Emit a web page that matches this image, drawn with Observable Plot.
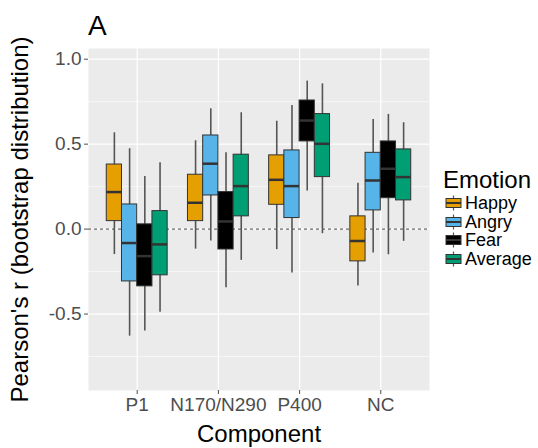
<!DOCTYPE html>
<html><head><meta charset="utf-8">
<script src="https://cdn.jsdelivr.net/npm/d3@7"></script>
<script src="https://cdn.jsdelivr.net/npm/@observablehq/plot@0.6"></script>
<style>
body{margin:0;background:#fff;font-family:"Liberation Sans",Arial,Helvetica,sans-serif;}
#wrap{position:relative;width:538px;height:448px;}
#title{position:absolute;left:88px;top:12px;font-size:28px;line-height:28px;color:#000;}
#legend{position:absolute;left:443px;top:167px;color:#000;}
#legend .lt{font-size:24px;line-height:26px;margin-bottom:1px;}
#legend .row{display:flex;align-items:center;height:18.5px;font-size:18px;line-height:16px;}
#legend .row svg{margin-left:2px;margin-right:3px;}
g[aria-label="y-axis label"] text, g[aria-label="x-axis label"] text{font-size:24px;fill:#000;}
</style>
</head><body>
<div id="wrap"><div id="chart"></div><div id="title">A</div><div id="legend"></div></div>
<script>
const components = ["P1", "N170/N290", "P400", "NC"];
const emotions = ["Happy", "Angry", "Fear", "Average"];
const colors = ["#E69F00", "#56B4E9", "#000000", "#009E73"];
const yTicks = [-0.5, 0, 0.5, 1.0];
const yMinor = [-0.75, -0.25, 0.25, 0.75];
// order: component (P1, N170/N290, P400, NC) x emotion (Happy, Angry, Fear, Average)
const whiskerLow = [-0.15, -0.63, -0.60, -0.49,  -0.118, -0.07, -0.345, -0.184,  -0.121, -0.259, 0.224, -0.027,  -0.335, -0.141, -0.151, -0.072];
const q1 =         [0.047, -0.308, -0.337, -0.272,  0.047, 0.198, -0.12, 0.075,  0.143, 0.065, 0.516, 0.306,  -0.19, 0.11, 0.182, 0.169];
const median =     [0.218, -0.082, -0.159, -0.09,  0.155, 0.385, 0.045, 0.253,  0.29, 0.253, 0.639, 0.502,  -0.07, 0.286, 0.355, 0.306];
const q3 =         [0.38, 0.145, 0.028, 0.106,  0.32, 0.551, 0.218, 0.438,  0.434, 0.463, 0.757, 0.677,  0.075, 0.449, 0.516, 0.469];
const whiskerHigh =[0.567, 0.473, 0.31, 0.39,  0.52, 0.708, 0.449, 0.685,  0.635, 0.728, 0.871, 0.855,  0.27, 0.645, 0.675, 0.626];

const dodge = 0.75 / emotions.length;
const rows = [];
components.forEach((c, ci) => emotions.forEach((e, ei) => {
  const k = ci * emotions.length + ei;
  rows.push({component: c, emotion: e, xc: ci + (ei - (emotions.length - 1) / 2) * dodge,
    lo: whiskerLow[k], q1: q1[k], med: median[k], q3: q3[k], hi: whiskerHigh[k]});
}));

const chart = Plot.plot({
  width: 538, height: 448,
  marginLeft: 88, marginRight: 109, marginTop: 48, marginBottom: 58,
  style: {fontFamily: "Liberation Sans, Arial, Helvetica, sans-serif", fontSize: "19px", background: "transparent"},
  x: {domain: [-0.6, 3.6]},
  y: {domain: [-0.95, 1.063]},
  color: {domain: emotions, range: colors},
  marks: [
    Plot.frame({fill: "#EBEBEB", stroke: "none"}),
    Plot.gridY(yMinor, {stroke: "#fff", strokeOpacity: 1, strokeWidth: 0.6}),
    Plot.gridY(yTicks, {stroke: "#fff", strokeOpacity: 1, strokeWidth: 1.2}),
    Plot.gridX([0, 1, 2, 3], {stroke: "#fff", strokeOpacity: 1, strokeWidth: 1.2}),
    Plot.ruleY([0], {stroke: "#444", strokeDasharray: "3,3", strokeWidth: 1}),
    Plot.ruleX(rows, {x: "xc", y1: "lo", y2: "hi", stroke: "#555", strokeWidth: 1.6}),
    Plot.rect(rows, {x1: d => d.xc - dodge / 2, x2: d => d.xc + dodge / 2, y1: "q1", y2: "q3", fill: "emotion", stroke: "#333", strokeWidth: 1}),
    Plot.ruleY(rows, {y: "med", x1: d => d.xc - dodge / 2, x2: d => d.xc + dodge / 2, stroke: "#333", strokeWidth: 2.5}),
    Plot.axisY(yTicks, {tickFormat: d => d.toFixed(1), tickSize: 4, tickPadding: 3, color: "#4D4D4D",
      label: "Pearson's r (bootstrap distribution)", labelAnchor: "center", labelArrow: false, labelOffset: 78}),
    Plot.axisX([0, 1, 2, 3], {tickFormat: i => components[i], tickSize: 4, tickPadding: 3, color: "#4D4D4D",
      label: "Component", labelAnchor: "center", labelArrow: false, labelOffset: 51})
  ]
});
document.getElementById("chart").appendChild(chart);

// legend
const lg = document.getElementById("legend");
const lt = document.createElement("div"); lt.className = "lt"; lt.textContent = "Emotion"; lg.appendChild(lt);
emotions.forEach((e, i) => {
  const row = document.createElement("div"); row.className = "row";
  row.innerHTML = `<svg width="17" height="18" viewBox="0 0 17 18">
    <line x1="8.5" x2="8.5" y1="1.5" y2="16.5" stroke="#555" stroke-width="1.2"/>
    <rect x="1" y="4.5" width="15" height="9" fill="${colors[i]}" stroke="#333" stroke-width="1"/>
    <line x1="1" x2="16" y1="9" y2="9" stroke="#333" stroke-width="2"/></svg><span>${e}</span>`;
  lg.appendChild(row);
});
</script>
</body></html>
